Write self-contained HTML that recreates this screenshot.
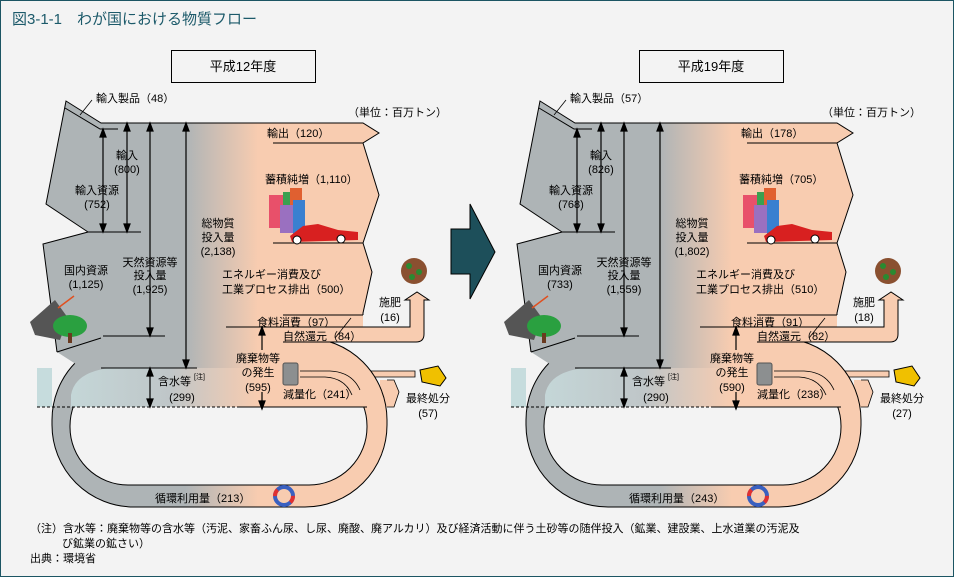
<!DOCTYPE html>
<html><head><meta charset="utf-8"><style>
html,body{margin:0;padding:0;background:#f3f3f3;}
svg{display:block;}
text{font-family:"Liberation Sans","Noto Sans CJK JP",sans-serif;font-size:11px;fill:#000;}
.c{text-anchor:middle;}
.s{font-size:7px;}
</style></head><body>
<svg width="954" height="577" viewBox="0 0 954 577" xmlns="http://www.w3.org/2000/svg">
<defs>
<linearGradient id="g" gradientUnits="userSpaceOnUse" x1="185" y1="0" x2="258" y2="0">
<stop offset="0" stop-color="#aeb4b6"/><stop offset="1" stop-color="#f8ccb0"/></linearGradient>
<linearGradient id="gb" gradientUnits="userSpaceOnUse" x1="37" y1="0" x2="258" y2="0">
<stop offset="0" stop-color="#c6dcdd"/><stop offset="0.6" stop-color="#bfc6c8"/><stop offset="1" stop-color="#f8ccb0"/></linearGradient>
<g id="base">
 <!-- final disposal branch -->
 <path d="M370,371 L415,371 L415,377 L370,377 Z" fill="#f8ccb0" stroke="#000" stroke-width="0.8"/>
 <path d="M380,380 L394,380 L399,392 L394,407 L380,407 Z" fill="#f8ccb0"/>
 <polyline points="387,380 394,380 399,392 394,407 387,407" fill="none" stroke="#000" stroke-width="0.8"/>
 <!-- loop -->
 <rect x="52" y="338" width="335" height="169" rx="82" fill="url(#g)" stroke="#000" stroke-width="1"/>
 <rect x="70" y="368" width="297" height="117" rx="58" fill="#f3f3f3" stroke="#000" stroke-width="1"/>
 <rect x="37" y="368" width="15" height="39" fill="#c6dcdd"/>
 <path d="M71,407 L71,395 Q75,372 110,368 L330,368 Q364,372 366,400 L366,407 Z" fill="url(#gb)"/>
 <line x1="37" y1="407" x2="240" y2="407" stroke="#000" stroke-dasharray="3,2"/>
 <line x1="240" y1="407" x2="367" y2="407" stroke="#000"/>
 <!-- main shape -->
 <path d="M66,101 L101,123 L363,123 L379,133 L363,143 L379,195 L363,243 L372,272 L363,313 L363,327 L410,327 L410,300 L405,300 L417,292 L429,300 L424,300 L424,334 Q424,342 416,342 L330,342 L330,368 L82,368 L57,352 L43,244 L88,232 L46,204 Z" fill="url(#g)"/>
 <polyline points="57,352 43,244 88,232 46,204 66,101 101,123 363,123 379,133 363,143 379,195 363,243 372,272 363,313 363,315" fill="none" stroke="#000" stroke-width="1"/>
 <polyline points="65,108 100,129 118,129" fill="none" stroke="#000" stroke-width="1"/>
 <line x1="57" y1="352" x2="101" y2="338" stroke="#000"/>
 <line x1="273" y1="143" x2="363" y2="143" stroke="#000"/>
 <line x1="273" y1="243" x2="363" y2="243" stroke="#000"/>
 <line x1="88" y1="232" x2="141" y2="232" stroke="#000"/>
 <line x1="103" y1="336" x2="165" y2="336" stroke="#000"/>
 <line x1="101" y1="368" x2="197" y2="368" stroke="#000"/>
 <line x1="283" y1="315" x2="363" y2="315" stroke="#000"/>
 <polyline points="226,327 410,327 410,300 405,300 417,292 429,300 424,300 424,334" fill="none" stroke="#000"/>
 <path d="M424,334 Q424,342 416,342 L283,342" fill="none" stroke="#000"/>
 <path d="M300,371 L330,371 Q352,372 360,390" fill="none" stroke="#000" stroke-width="0.8"/>
 <path d="M300,377 L325,377 Q345,378 352,395" fill="none" stroke="#000" stroke-width="0.8"/>
 <line x1="335" y1="338" x2="351" y2="318" stroke="#000" stroke-width="0.8"/>
 <line x1="80" y1="115" x2="92" y2="100" stroke="#000" stroke-width="0.8"/>
 <!-- arrows -->
 <g stroke="#000" stroke-width="1.2" fill="#000">
  <line x1="103" y1="131" x2="103" y2="230"/><path d="M100,137 L103,129 L106,137Z M100,224 L103,232 L106,224Z"/>
  <line x1="127" y1="125" x2="127" y2="230"/><path d="M124,131 L127,123 L130,131Z M124,224 L127,232 L130,224Z"/>
  <line x1="150" y1="125" x2="150" y2="334"/><path d="M147,131 L150,123 L153,131Z M147,328 L150,336 L153,328Z"/>
  <line x1="186" y1="125" x2="186" y2="366"/><path d="M183,131 L186,123 L189,131Z M183,360 L186,368 L189,360Z"/>
  <line x1="150" y1="370" x2="150" y2="405"/><path d="M147,376 L150,368 L153,376Z M147,399 L150,407 L153,399Z"/>
  <line x1="262" y1="329" x2="262" y2="350"/><line x1="262" y1="392" x2="262" y2="409"/><path d="M259,335 L262,327 L265,335Z M259,401 L262,409 L265,401Z"/>
 </g>
 <!-- icons -->
 <g>
  <rect x="269" y="195" width="14" height="33" fill="#e8506a"/><rect x="283" y="192" width="10" height="33" fill="#3aa050"/>
  <rect x="290" y="188" width="12" height="20" fill="#e06030"/><rect x="280" y="205" width="14" height="28" fill="#9a70c0"/>
  <rect x="293" y="200" width="12" height="34" fill="#3a80d0"/>
  <path d="M290,236 L303,226 L318,224 L338,230 L358,232 L358,240 L292,242 Z" fill="#d82020"/>
  <circle cx="297" cy="240" r="4" fill="#fff" stroke="#000"/><circle cx="341" cy="239" r="4" fill="#fff" stroke="#000"/>
  <rect x="283" y="363" width="15" height="22" rx="2" fill="#8c8f90" stroke="#555"/>
  <circle cx="414" cy="271" r="13" fill="#8a5030"/><circle cx="409" cy="266" r="3" fill="#2a8a30"/><circle cx="419" cy="272" r="3" fill="#2a8a30"/><circle cx="412" cy="277" r="3" fill="#2a8a30"/>
  <path d="M420,370 L438,366 L446,378 L440,386 L422,382 Z" fill="#f0c000" stroke="#000"/>
  <path d="M30,322 L55,300 L68,318 L60,340 L35,335 Z" fill="#555"/>
  <path d="M58,308 L74,296" stroke="#e05020" stroke-width="1.5"/>
  <ellipse cx="70" cy="326" rx="17" ry="11" fill="#2aa040"/><rect x="68" y="333" width="4" height="10" fill="#6a3a20"/>
  <circle cx="284" cy="496" r="9" fill="none" stroke="#3a60c0" stroke-width="4"/>
  <circle cx="284" cy="496" r="9" fill="none" stroke="#e03030" stroke-width="4" stroke-dasharray="7,21"/>
 </g>
</g>
</defs>
<rect x="0.5" y="0.5" width="953" height="576" fill="#f3f3f3" stroke="#1c5563"/>
<text x="12" y="24" style="font-size:15px;fill:#1c5a6a">図3-1-1　わが国における物質フロー</text>
<rect x="171.5" y="50.5" width="144" height="32" fill="none" stroke="#000"/>
<text x="243" y="71" class="c" style="font-size:13px">平成12年度</text>
<rect x="639.5" y="50.5" width="144" height="32" fill="none" stroke="#000"/>
<text x="711" y="71" class="c" style="font-size:13px">平成19年度</text>
<path d="M451,229 L470,229 L470,204 L495,252 L470,299 L470,274 L451,274 Z" fill="#1d4f5a" stroke="#000"/>

<use href="#base"/>
<use href="#base" x="474"/>

<g>
<text x="96" y="102">輸入製品（48）</text>
<text x="447" y="116" text-anchor="end">（単位：百万トン）</text>
<text x="267" y="137">輸出（120）</text>
<text x="265" y="183">蓄積純増（1,110）</text>
<text x="218" y="227" class="c">総物質</text><text x="218" y="241" class="c">投入量</text><text x="218" y="255" class="c">(2,138)</text>
<text x="222" y="278">エネルギー消費及び</text><text x="222" y="293">工業プロセス排出（500）</text>
<text x="127" y="159" class="c">輸入</text><text x="127" y="173" class="c">(800)</text>
<text x="97" y="194" class="c">輸入資源</text><text x="97" y="208" class="c">(752)</text>
<text x="150" y="266" class="c">天然資源等</text><text x="150" y="279" class="c">投入量</text><text x="150" y="293" class="c">(1,925)</text>
<text x="86" y="274" class="c">国内資源</text><text x="86" y="288" class="c">(1,125)</text>
<text x="390" y="306" class="c">施肥</text><text x="390" y="321" class="c">(16)</text>
<text x="257" y="326">食料消費（97）</text>
<text x="283" y="340">自然還元（84）</text>
<text x="258" y="362" class="c">廃棄物等</text><text x="258" y="376" class="c">の発生</text><text x="258" y="391" class="c">(595)</text>
<text x="158" y="385">含水等</text><text x="194" y="379" class="s">[注]</text><text x="182" y="401" class="c">(299)</text>
<text x="283" y="398">減量化（241）</text>
<text x="428" y="402" class="c">最終処分</text><text x="428" y="417" class="c">(57)</text>
<text x="155" y="502">循環利用量（213）</text>
</g>
<g>
<text x="570" y="102">輸入製品（57）</text>
<text x="921" y="116" text-anchor="end">（単位：百万トン）</text>
<text x="741" y="137">輸出（178）</text>
<text x="739" y="183">蓄積純増（705）</text>
<text x="692" y="227" class="c">総物質</text><text x="692" y="241" class="c">投入量</text><text x="692" y="255" class="c">(1,802)</text>
<text x="696" y="278">エネルギー消費及び</text><text x="696" y="293">工業プロセス排出（510）</text>
<text x="601" y="159" class="c">輸入</text><text x="601" y="173" class="c">(826)</text>
<text x="571" y="194" class="c">輸入資源</text><text x="571" y="208" class="c">(768)</text>
<text x="624" y="266" class="c">天然資源等</text><text x="624" y="279" class="c">投入量</text><text x="624" y="293" class="c">(1,559)</text>
<text x="560" y="274" class="c">国内資源</text><text x="560" y="288" class="c">(733)</text>
<text x="864" y="306" class="c">施肥</text><text x="864" y="321" class="c">(18)</text>
<text x="731" y="326">食料消費（91）</text>
<text x="757" y="340">自然還元（82）</text>
<text x="732" y="362" class="c">廃棄物等</text><text x="732" y="376" class="c">の発生</text><text x="732" y="391" class="c">(590)</text>
<text x="632" y="385">含水等</text><text x="668" y="379" class="s">[注]</text><text x="656" y="401" class="c">(290)</text>
<text x="757" y="398">減量化（238）</text>
<text x="902" y="402" class="c">最終処分</text><text x="902" y="417" class="c">(27)</text>
<text x="629" y="502">循環利用量（243）</text>
</g>
<text x="30" y="532">（注）含水等：廃棄物等の含水等（汚泥、家畜ふん尿、し尿、廃酸、廃アルカリ）及び経済活動に伴う土砂等の随伴投入（鉱業、建設業、上水道業の汚泥及</text>
<text x="62" y="547">び鉱業の鉱さい）</text>
<text x="30" y="562">出典：環境省</text>
</svg>
</body></html>
